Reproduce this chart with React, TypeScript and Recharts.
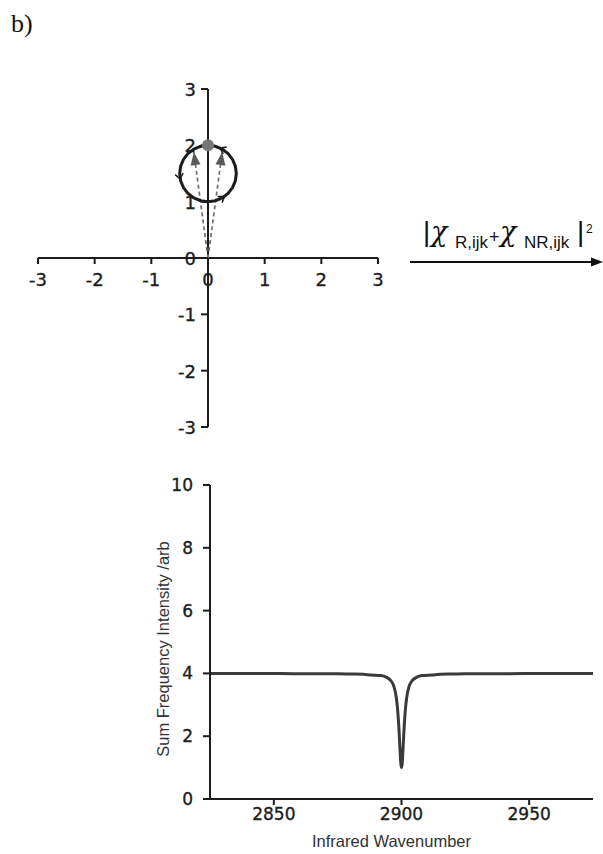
import React from "react";
import {
  ComposedChart,
  LineChart,
  Line,
  XAxis,
  YAxis,
  ReferenceLine,
  ReferenceDot,
} from "recharts";

// ---------- complex-plane panel ----------
const PLANE_TICKS = [-3, -2, -1, 0, 1, 2, 3];

// susceptibility circle (Re, Im), centre 0 + 1.5i, radius 0.5
const CHI_CIRCLE = [
  { x: 0, y: 2 },
  { x: -0.129, y: 1.983 },
  { x: -0.25, y: 1.933 },
  { x: -0.354, y: 1.854 },
  { x: -0.433, y: 1.75 },
  { x: -0.483, y: 1.629 },
  { x: -0.5, y: 1.5 },
  { x: -0.483, y: 1.371 },
  { x: -0.433, y: 1.25 },
  { x: -0.354, y: 1.146 },
  { x: -0.25, y: 1.067 },
  { x: -0.129, y: 1.017 },
  { x: 0, y: 1 },
  { x: 0.129, y: 1.017 },
  { x: 0.25, y: 1.067 },
  { x: 0.354, y: 1.146 },
  { x: 0.433, y: 1.25 },
  { x: 0.483, y: 1.371 },
  { x: 0.5, y: 1.5 },
  { x: 0.483, y: 1.629 },
  { x: 0.433, y: 1.75 },
  { x: 0.354, y: 1.854 },
  { x: 0.25, y: 1.933 },
  { x: 0.129, y: 1.983 },
  { x: 0, y: 2 },
];

// small direction chevrons on the circle
const HOOK_TOP = [
  { x: 0.33, y: 1.97 },
  { x: 0.21, y: 1.95 },
  { x: 0.27, y: 1.85 },
];
const HOOK_LEFT = [
  { x: -0.58, y: 1.48 },
  { x: -0.49, y: 1.4 },
  { x: -0.44, y: 1.51 },
];
const HOOK_BOTTOM = [
  { x: 0.25, y: 0.98 },
  { x: 0.29, y: 1.09 },
  { x: 0.17, y: 1.09 },
];

// dashed vectors from the origin
const VECTOR_LEFT = [
  { x: 0, y: 0 },
  { x: -0.25, y: 1.88 },
];
const VECTOR_RIGHT = [
  { x: 0, y: 0 },
  { x: 0.25, y: 1.88 },
];

// non-resonant point
const NR_POINT = { x: 0, y: 2 };

// ---------- spectrum panel ----------
const WAVENUMBER_TICKS = [2850, 2900, 2950];
const INTENSITY_TICKS = [0, 2, 4, 6, 8, 10];

const WAVENUMBER = [
  2825, 2840, 2860, 2875, 2880, 2885, 2888, 2892, 2894, 2896, 2897, 2898,
  2898.5, 2899, 2899.25, 2899.5, 2899.75, 2900, 2900.25, 2900.5, 2900.75,
  2901, 2901.5, 2902, 2903, 2904, 2906, 2908, 2912, 2915, 2920, 2925, 2940,
  2960, 2975,
];
const INTENSITY = [
  4, 4, 3.99, 3.99, 3.98, 3.97, 3.95, 3.93, 3.88, 3.75, 3.59, 3.21, 2.83,
  2.23, 1.84, 1.44, 1.12, 1, 1.12, 1.44, 1.84, 2.23, 2.83, 3.21, 3.59, 3.75,
  3.88, 3.93, 3.95, 3.97, 3.98, 3.99, 3.99, 4, 4,
];

const spectrum = WAVENUMBER.map((wn, i) => ({ wn, intensity: INTENSITY[i] }));

const INK = "#1c1c1c";
const TICK_FONT = "'DejaVu Sans', Verdana, sans-serif";
const LABEL_FONT = "'Liberation Sans', Arial, sans-serif";
const TICK_TEXT = {
  fontFamily: TICK_FONT,
  fontSize: 17,
  fill: INK,
  stroke: INK,
  strokeWidth: 0.35,
};

function PlaneXTick(props: any) {
  const { cx, cy, value } = props;
  return (
    <g>
      <line x1={cx} y1={cy} x2={cx} y2={cy + 6} stroke={INK} strokeWidth={2} />
      <text
        x={cx}
        y={cy + 28}
        textAnchor="middle"
        fontFamily={TICK_FONT}
        fontSize={18}
        fill={INK}
        stroke={INK}
        strokeWidth={0.35}
      >
        {String(value)}
      </text>
    </g>
  );
}

function PlaneYTick(props: any) {
  const { cx, cy, value } = props;
  return (
    <g>
      <line x1={cx - 7} y1={cy} x2={cx} y2={cy} stroke={INK} strokeWidth={2} />
      <text
        x={cx - 12}
        y={cy + 7}
        textAnchor="end"
        fontFamily={TICK_FONT}
        fontSize={18}
        fill={INK}
        stroke={INK}
        strokeWidth={0.35}
      >
        {String(value)}
      </text>
    </g>
  );
}

// arrowhead at the tip of a vector; plot area is square so data angle == screen angle
function VectorTip(props: any) {
  const { cx, cy, index, payload } = props;
  if (index !== 1 || cx == null) return <g key={`tip-${index}`} />;
  const angle = (Math.atan2(-payload.y, payload.x) * 180) / Math.PI;
  return (
    <g key={`tip-${index}`} transform={`translate(${cx},${cy}) rotate(${angle})`}>
      <polygon points="0,0 -13,-5 -13,5" fill="#5a5a5a" />
    </g>
  );
}

function ComplexPlane() {
  return (
    <ComposedChart
      width={603}
      height={460}
      margin={{ top: 89, left: 38, right: 225, bottom: 33 }}
    >
      <XAxis dataKey="x" type="number" domain={[-3, 3]} hide allowDataOverflow />
      <YAxis dataKey="y" type="number" domain={[-3, 3]} hide allowDataOverflow />
      <ReferenceLine x={0} stroke={INK} strokeWidth={2} />
      <ReferenceLine y={0} stroke={INK} strokeWidth={2} />
      {PLANE_TICKS.map((t) => (
        <ReferenceDot
          key={`px${t}`}
          x={t}
          y={0}
          r={0}
          ifOverflow="visible"
          shape={(p: any) => <PlaneXTick {...p} value={t} />}
        />
      ))}
      {PLANE_TICKS.map((t) => (
        <ReferenceDot
          key={`py${t}`}
          x={0}
          y={t}
          r={0}
          ifOverflow="visible"
          shape={(p: any) => <PlaneYTick {...p} value={t} />}
        />
      ))}
      <Line
        data={VECTOR_LEFT}
        dataKey="y"
        type="linear"
        stroke="#6e6e6e"
        strokeWidth={1.7}
        strokeDasharray="4 3"
        dot={VectorTip}
        activeDot={false}
        isAnimationActive={false}
      />
      <Line
        data={VECTOR_RIGHT}
        dataKey="y"
        type="linear"
        stroke="#6e6e6e"
        strokeWidth={1.7}
        strokeDasharray="4 3"
        dot={VectorTip}
        activeDot={false}
        isAnimationActive={false}
      />
      <Line
        data={CHI_CIRCLE}
        dataKey="y"
        type="linear"
        stroke={INK}
        strokeWidth={3}
        dot={false}
        activeDot={false}
        isAnimationActive={false}
      />
      {[HOOK_TOP, HOOK_LEFT, HOOK_BOTTOM].map((hook, i) => (
        <Line
          key={`hook${i}`}
          data={hook}
          dataKey="y"
          type="linear"
          stroke={INK}
          strokeWidth={1.5}
          dot={false}
          activeDot={false}
          isAnimationActive={false}
        />
      ))}
      <ReferenceDot
        x={NR_POINT.x}
        y={NR_POINT.y}
        r={6}
        fill="#777"
        stroke="none"
        ifOverflow="visible"
      />
    </ComposedChart>
  );
}

function Spectrum() {
  return (
    <LineChart
      width={603}
      height={414}
      data={spectrum}
      margin={{ top: 45, left: 150, right: 10, bottom: 25 }}
    >
      <XAxis
        dataKey="wn"
        type="number"
        domain={[2825, 2975]}
        ticks={WAVENUMBER_TICKS}
        allowDataOverflow
        height={30}
        axisLine={{ stroke: INK, strokeWidth: 2 }}
        tickLine={{ stroke: INK, strokeWidth: 2 }}
        tickSize={6}
        tickMargin={3}
        tick={TICK_TEXT}
        label={{
          content: (p: any) => {
            const vb = p.viewBox;
            return (
              <text
                x={vb.x + vb.width / 2 - 10}
                y={vb.y + 48}
                textAnchor="middle"
                fontFamily={LABEL_FONT}
                fontSize={16.5}
                fill="#333"
              >
                Infrared Wavenumber
              </text>
            );
          },
        }}
      />
      <YAxis
        type="number"
        domain={[0, 10]}
        ticks={INTENSITY_TICKS}
        width={60}
        axisLine={{ stroke: INK, strokeWidth: 2 }}
        tickLine={{ stroke: INK, strokeWidth: 2 }}
        tickSize={7}
        tickMargin={10}
        tick={TICK_TEXT}
        label={{
          content: (p: any) => {
            const vb = p.viewBox;
            const x = vb.x + 19;
            const y = vb.y + vb.height / 2 + 7;
            return (
              <text
                x={x}
                y={y}
                transform={`rotate(-90, ${x}, ${y})`}
                textAnchor="middle"
                fontFamily={LABEL_FONT}
                fontSize={16.5}
                fill="#333"
              >
                Sum Frequency Intensity /arb
              </text>
            );
          },
        }}
      />
      <Line
        dataKey="intensity"
        type="monotone"
        stroke="#3a3a3a"
        strokeWidth={3}
        dot={false}
        activeDot={false}
        isAnimationActive={false}
      />
    </LineChart>
  );
}

const SERIF = "'Liberation Serif', 'Times New Roman', serif";
const CHI_FONT = "'DejaVu Serif', serif";

export default function App() {
  return (
    <div
      style={{
        position: "absolute",
        left: 0,
        top: 0,
        width: 603,
        height: 854,
        background: "#fff",
        overflow: "hidden",
      }}
    >
      <div style={{ position: "absolute", left: 0, top: 0 }}>
        <ComplexPlane />
      </div>
      <div style={{ position: "absolute", left: 0, top: 440 }}>
        <Spectrum />
      </div>
      <svg
        width={603}
        height={854}
        style={{ position: "absolute", left: 0, top: 0, pointerEvents: "none" }}
      >
        <text x={11} y={32} fontFamily={SERIF} fontSize={26} fill="#111">
          b)
        </text>
        <g fontFamily={LABEL_FONT} fill="#111">
          <text x={423} y={241} fontSize={28}>|</text>
          <text x={431} y={241} fontSize={27} fontFamily={CHI_FONT} fontStyle="italic">χ</text>
          <text x={455} y={248} fontSize={17}>R,ijk</text>
          <text x={489} y={243} fontSize={18}>+</text>
          <text x={500} y={241} fontSize={27} fontFamily={CHI_FONT} fontStyle="italic">χ</text>
          <text x={524} y={248} fontSize={17}>NR,ijk</text>
          <text x={577} y={241} fontSize={28}>|</text>
          <text x={586} y={233} fontSize={12}>2</text>
        </g>
        <line x1={410} y1={262} x2={594} y2={262} stroke="#111" strokeWidth={2} />
        <polygon points="603,262 591,257.5 591,266.5" fill="#111" />
      </svg>
    </div>
  );
}
